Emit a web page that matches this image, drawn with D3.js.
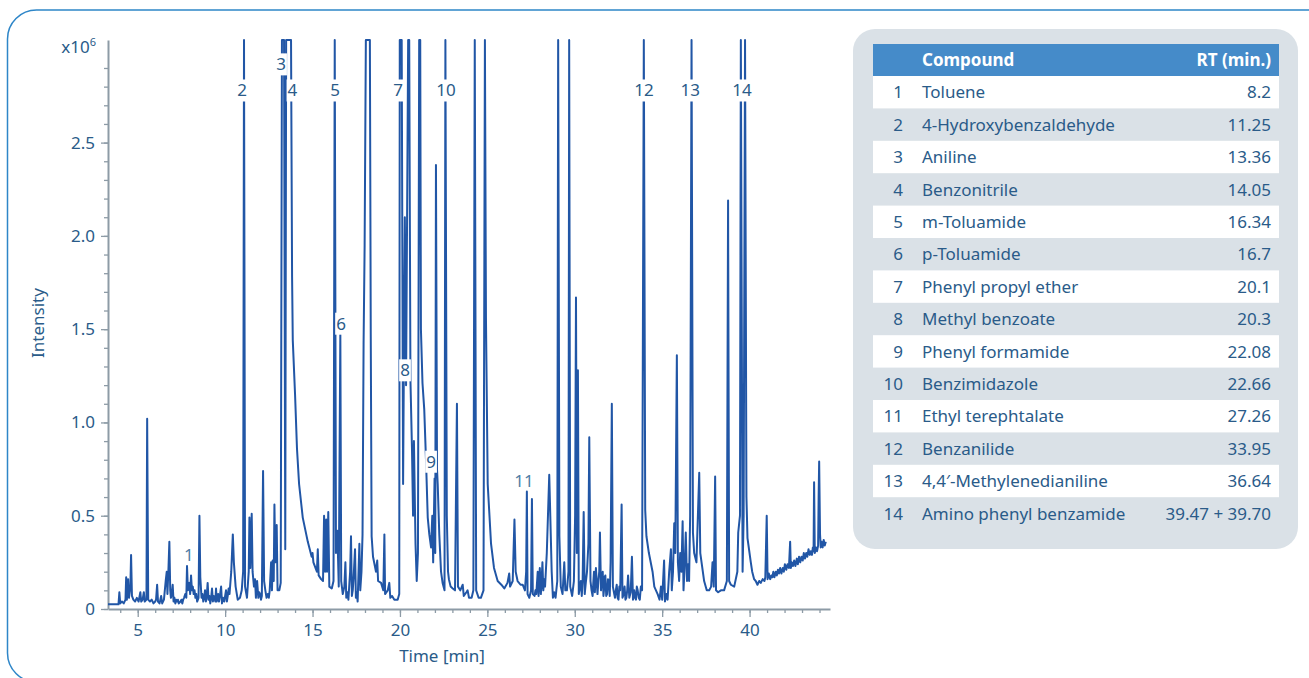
<!DOCTYPE html>
<html>
<head>
<meta charset="utf-8">
<script src="https://cdn.jsdelivr.net/npm/d3@7"></script>
<style>
    body { margin: 0; background: #fff; }
    svg text { font-family: "Noto Sans", "Open Sans", sans-serif; }
</style>
</head>
<body>
<svg id="main-chart" width="1309" height="678"></svg>
<script>
// chromatogram trace, [time (min), intensity (x10^6)]
var trace = [
    [3.3,0.025],[3.9,0.025],[3.95,0.09],[4.0,0.03],[4.1,0.04],[4.2,0.03],[4.3,0.05],[4.34,0.17],[4.38,0.05],
    [4.45,0.16],[4.5,0.06],[4.58,0.12],[4.62,0.29],[4.67,0.07],[4.75,0.05],[4.85,0.04],[4.95,0.06],[5.05,0.04],
    [5.15,0.09],[5.2,0.04],[5.28,0.05],[5.35,0.09],[5.4,0.04],[5.5,0.05],[5.54,1.02],[5.6,0.05],[5.7,0.04],
    [5.8,0.05],[5.9,0.03],[6.0,0.04],[6.05,0.05],[6.11,0.13],[6.16,0.04],[6.25,0.03],[6.34,0.07],[6.4,0.03],
    [6.5,0.05],[6.6,0.15],[6.66,0.2],[6.7,0.08],[6.76,0.22],[6.81,0.36],[6.86,0.1],[6.9,0.06],[6.95,0.08],[7.0,0.13],
    [7.05,0.04],[7.1,0.06],[7.15,0.03],[7.2,0.05],[7.25,0.04],[7.3,0.05],[7.35,0.03],[7.45,0.04],[7.5,0.05],[7.55,0.03],
    [7.6,0.05],[7.65,0.06],[7.72,0.08],[7.78,0.06],[7.82,0.23],
    [7.87,0.1],[7.95,0.14],[8.0,0.08],[8.05,0.18],[8.1,0.1],[8.15,0.12],[8.2,0.08],[8.25,0.1],[8.3,0.06],[8.35,0.08],
    [8.4,0.04],[8.48,0.06],
    [8.53,0.5],[8.58,0.17],[8.65,0.06],[8.7,0.08],[8.75,0.04],[8.8,0.06],[8.85,0.1],[8.9,0.04],[8.95,0.07],[9.0,0.14],
    [9.05,0.05],[9.1,0.07],[9.15,0.03],
    [9.2,0.06],[9.25,0.11],[9.3,0.04],[9.35,0.07],[9.4,0.06],[9.44,0.04],[9.48,0.11],[9.52,0.04],[9.56,0.06],
    [9.6,0.08],[9.65,0.04],[9.7,0.07],[9.77,0.12],[9.82,0.03],
    [9.88,0.06],[9.95,0.04],[10.0,0.07],[10.05,0.1],[10.1,0.04],[10.15,0.07],[10.2,0.11],[10.25,0.08],[10.35,0.2],
    [10.44,0.4],[10.5,0.25],[10.6,0.12],
    [10.72,0.05],[10.85,0.06],[10.95,0.1],[11.03,0.2],[11.08,3.05],[11.14,0.12],[11.25,0.06],[11.35,0.2],
    [11.39,0.49],[11.44,0.22],[11.52,0.51],[11.57,0.2],[11.65,0.12],[11.71,0.16],[11.76,0.06],[11.83,0.15],
    [11.9,0.06],[11.95,0.09],[12.0,0.08],[12.05,0.05],[12.1,0.07],[12.17,0.74],[12.23,0.15],[12.3,0.1],[12.37,0.06],
    [12.44,0.08],[12.5,0.06],[12.55,0.1],
    [12.63,0.25],[12.68,0.1],[12.72,0.26],[12.78,0.15],[12.82,0.56],[12.87,0.25],[12.95,0.45],[13.0,0.1],
    [13.1,0.1],[13.18,0.14],[13.25,3.05],[13.37,3.05],[13.44,0.32],[13.49,3.05],[13.77,3.05],[13.83,1.78],
    [13.87,1.44],[14.0,1.15],[14.11,0.86],[14.23,0.67],[14.44,0.49],[14.73,0.36],[14.95,0.28],[15.0,0.3],
    [15.05,0.25],[15.25,0.2],[15.3,0.32],[15.35,0.18],[15.49,0.16],[15.6,0.15],[15.66,0.5],[15.72,0.2],
    [15.78,0.48],[15.83,0.2],[15.9,0.52],[15.96,0.12],[16.1,0.11],[16.2,0.15],[16.27,3.05],[16.34,0.3],
    [16.42,0.42],[16.5,0.12],[16.59,1.48],[16.64,0.15],[16.73,0.08],[16.82,0.12],[16.88,0.25],[16.93,0.06],
    [17.0,0.09],[17.05,0.05],[17.15,0.2],[17.2,0.39],[17.25,0.07],[17.3,0.1],[17.35,0.17],[17.43,0.32],[17.48,0.06],
    [17.53,0.09],[17.58,0.04],
    [17.68,0.35],[17.73,0.1],[17.8,0.2],[17.86,0.4],[17.92,1.42],[17.98,1.95],[18.05,3.05],[18.28,3.05],
    [18.33,1.47],[18.38,0.39],[18.46,0.28],[18.63,0.2],[18.7,0.26],[18.75,0.15],[18.92,0.14],[19.05,0.1],
    [19.11,0.4],[19.15,0.08],[19.3,0.1],[19.39,0.14],[19.45,0.06],[19.55,0.07],[19.68,0.05],[19.87,0.05],
    [19.96,0.08],[19.99,3.05],[20.1,3.05],[20.18,0.67],[20.28,2.1],[20.35,1.2],[20.47,3.05],[20.53,3.05],
    [20.6,1.23],[20.69,0.85],[20.75,0.5],[20.8,0.9],[20.89,0.35],[20.96,0.15],[21.03,0.3],[21.1,3.05],
    [21.16,3.05],[21.2,1.5],[21.29,1.21],[21.39,1.07],[21.49,0.8],[21.59,0.49],[21.68,0.4],[21.78,0.33],
    [21.85,0.5],[21.9,0.25],[21.98,0.7],[22.02,0.3],[22.06,2.38],[22.12,0.75],[22.16,0.67],[22.25,0.4],
    [22.35,0.2],[22.44,0.14],[22.55,0.1],[22.6,3.05],[22.68,0.5],[22.75,0.2],[22.8,0.16],[22.9,0.12],
    [23.02,0.11],[23.15,0.1],[23.26,1.1],[23.32,0.12],[23.45,0.1],[23.59,0.13],[23.65,0.07],[23.8,0.09],
    [23.87,0.1],[23.95,0.06],[24.1,0.06],[24.2,0.1],[24.28,3.05],[24.36,0.1],[24.5,0.06],[24.63,0.06],
    [24.78,0.1],[24.86,3.05],[24.92,1.56],[25.02,0.67],[25.21,0.35],[25.38,0.22],[25.59,0.15],[25.8,0.13],
    [25.97,0.11],[26.15,0.14],[26.25,0.19],[26.3,0.12],[26.45,0.15],[26.55,0.48],[26.62,0.2],[26.73,0.15],
    [26.9,0.13],[27.02,0.13],[27.15,0.1],[27.22,0.2],[27.26,0.63],[27.3,0.08],[27.4,0.06],[27.5,0.1],
    [27.55,0.59],[27.6,0.08],[27.7,0.07],[27.75,0.1],[27.8,0.08],[27.88,0.2],[27.93,0.07],[28.0,0.22],[28.06,0.08],
    [28.1,0.14],[28.15,0.25],[28.2,0.1],[28.25,0.16],[28.3,0.12],[28.4,0.3],[28.54,0.72],[28.6,0.5],[28.68,0.2],[28.75,0.06],
    [28.82,0.09],[28.9,0.06],[29.0,0.15],[29.05,3.05],[29.12,0.39],[29.2,0.12],[29.3,0.08],[29.4,0.25],[29.46,0.1],
    [29.55,0.1],[29.64,0.2],[29.68,3.05],[29.74,0.12],[29.85,0.07],[29.95,0.15],[30.02,0.5],[30.07,1.67],
    [30.12,0.3],[30.18,1.28],[30.23,0.08],[30.3,0.12],[30.35,0.15],[30.4,0.07],[30.45,0.15],[30.51,0.52],[30.57,0.08],
    [30.63,0.14],[30.7,0.2],[30.78,0.35],[30.83,0.92],[30.9,0.15],[30.96,0.1],[31.02,0.07],[31.06,0.14],[31.1,0.2],
    [31.15,0.09],[31.21,0.22],[31.3,0.08],[31.35,0.15],[31.4,0.2],[31.44,0.41],[31.5,0.1],[31.55,0.16],[31.6,0.2],
    [31.64,0.07],[31.67,0.1],[31.71,0.17],[31.75,0.18],[31.8,0.07],[31.85,0.08],[31.9,0.16],[31.95,0.15],
    [32.0,0.07],[32.05,0.25],[32.12,1.1],[32.18,0.12],[32.24,0.09],[32.3,0.06],[32.35,0.1],[32.4,0.13],[32.45,0.06],
    [32.5,0.05],[32.55,0.12],[32.6,0.1],[32.68,0.56],[32.73,0.06],[32.8,0.08],[32.85,0.12],[32.9,0.05],[32.95,0.06],
    [33.0,0.1],[33.05,0.18],[33.12,0.06],[33.2,0.09],[33.27,0.28],[33.33,0.05],[33.4,0.1],[33.45,0.06],[33.5,0.05],
    [33.55,0.12],[33.6,0.1],[33.66,0.06],[33.72,0.05],[33.78,0.12],[33.85,0.1],[33.95,3.05],[34.03,0.53],[34.1,0.39],[34.24,0.3],[34.45,0.2],[34.55,0.12],
    [34.74,0.08],[34.85,0.05],[34.93,0.12],[35.0,0.05],[35.11,0.26],[35.16,0.04],[35.25,0.08],[35.31,0.05],[35.4,0.2],
    [35.5,0.32],[35.55,0.1],[35.62,0.2],[35.69,0.46],[35.75,0.3],[35.84,1.36],[35.9,0.25],[35.97,0.15],[36.03,0.3],[36.1,0.2],
    [36.17,0.47],[36.22,0.1],[36.28,0.22],[36.35,0.41],[36.42,0.15],[36.48,0.24],[36.54,0.15],[36.6,0.5],[36.68,3.05],[36.76,0.41],
    [36.83,0.3],[36.96,0.25],[37.12,0.73],[37.18,0.3],[37.4,0.15],[37.55,0.1],[37.69,0.1],[37.8,0.12],
    [37.88,0.25],[37.95,0.12],[38.03,0.71],[38.08,0.1],[38.2,0.09],[38.36,0.1],[38.54,0.1],[38.7,0.15],
    [38.77,2.19],[38.83,0.15],[38.93,0.13],[39.12,0.12],[39.3,0.2],[39.35,0.41],[39.45,0.5],[39.5,3.05],
    [39.6,0.2],[39.66,0.5],[39.74,3.05],[39.82,0.6],[39.88,0.38],[40.07,0.25],[40.15,0.2],[40.26,0.16],
    [40.35,0.15],[40.45,0.13],[40.55,0.15],[40.64,0.14],[40.75,0.16],[40.85,0.15],[40.9,0.17],[40.98,0.5],
    [41.03,0.16],[41.1,0.19],[41.18,0.16],[41.25,0.18],[41.3,0.17],[41.36,0.2],[41.42,0.17],[41.5,0.2],
    [41.56,0.18],[41.62,0.21],[41.68,0.19],[41.75,0.22],[41.82,0.19],[41.9,0.22],[41.96,0.2],[42.02,0.24],
    [42.1,0.21],[42.17,0.24],[42.25,0.22],[42.32,0.36],[42.36,0.22],[42.42,0.25],[42.48,0.23],[42.55,0.26],
    [42.62,0.23],[42.7,0.27],[42.76,0.24],[42.83,0.28],[42.9,0.25],[42.97,0.28],[43.04,0.26],[43.1,0.3],
    [43.17,0.27],[43.24,0.3],[43.3,0.28],[43.37,0.32],[43.44,0.29],[43.5,0.31],[43.57,0.29],[43.62,0.33],
    [43.66,0.31],[43.69,0.68],[43.73,0.3],[43.8,0.33],[43.86,0.31],[43.92,0.34],[43.95,0.6],[43.98,0.79],
    [44.03,0.4],[44.07,0.33],[44.12,0.36],[44.18,0.33],[44.24,0.37],[44.3,0.34],[44.36,0.36]
];

// peak labels: number, time and height where the label sits
var peakNo = ["1","2","3","4","5","6","7","8","9","10","11","12","13","14"];
var peakLabelT = [7.93, 10.97, 13.2, 13.85, 16.29, 16.63, 19.89, 20.29, 21.78, 22.64, 27.1, 33.96, 36.6, 39.57];
var peakLabelV = [0.29, 2.78, 2.92, 2.78, 2.78, 1.53, 2.78, 1.28, 0.79, 2.78, 0.686, 2.78, 2.78, 2.78];
var peakBoxed = [false, true, true, true, true, true, true, true, true, true, false, true, true, true];

// compound table
var compounds = ["Toluene", "4-Hydroxybenzaldehyde", "Aniline", "Benzonitrile", "m-Toluamide",
    "p-Toluamide", "Phenyl propyl ether", "Methyl benzoate", "Phenyl formamide", "Benzimidazole",
    "Ethyl terephtalate", "Benzanilide", "4,4\u2032-Methylenedianiline", "Amino phenyl benzamide"];
var retention = ["8.2", "11.25", "13.36", "14.05", "16.34", "16.7", "20.1", "20.3", "22.08", "22.66",
    "27.26", "33.95", "36.64", "39.47 + 39.70"];

var xTicks = [5, 10, 15, 20, 25, 30, 35, 40];
var yTicks = [0, 0.5, 1.0, 1.5, 2.0, 2.5];
var yTickLabels = ["0", "0.5", "1.0", "1.5", "2.0", "2.5"];

const lineColor = "#2156a6",
    textColor = "#2a5b89",
    axisColor = "#8d9ba6",
    fontSize = 17;

var svg = d3.select("#main-chart");

// outer frame
svg.append("rect")
    .attr("x", 7.5).attr("y", 10)
    .attr("width", 1360).attr("height", 672)
    .attr("rx", 29).attr("ry", 29)
    .style("fill", "none")
    .style("stroke", "#2e86c8")
    .style("stroke-width", 1.5);

var xScale = d3.scaleLinear().domain([3.3, 44.6]).range([108, 830]);
var yScale = d3.scaleLinear().domain([0, 3.05]).range([609, 40]);

// minor ticks
svg.append("g")
    .attr("transform", "translate(0,609)")
    .call(d3.axisBottom(xScale).tickValues(d3.range(4, 45)).tickSize(4).tickSizeOuter(0).tickFormat(""))
    .call(function(g) { g.select(".domain").remove(); });
svg.append("g")
    .attr("transform", "translate(108,0)")
    .call(d3.axisLeft(yScale).tickValues(d3.range(0, 30).map(function(d) { return d / 10; }))
        .tickSize(4).tickSizeOuter(0).tickFormat(""))
    .call(function(g) { g.select(".domain").remove(); });

// major ticks + labels
var xAxisG = svg.append("g")
    .attr("transform", "translate(0,609)")
    .call(d3.axisBottom(xScale).tickValues(xTicks).tickSize(8).tickSizeOuter(0).tickPadding(7)
        .tickFormat(function(d) { return d + ""; }));
var yAxisG = svg.append("g")
    .attr("transform", "translate(108,0)")
    .call(d3.axisLeft(yScale).tickValues(yTicks).tickSize(7).tickSizeOuter(0).tickPadding(6)
        .tickFormat(function(d, i) { return yTickLabels[i]; }));

svg.selectAll(".tick line").style("stroke", axisColor).style("stroke-width", 1.3);
svg.selectAll(".domain").style("stroke", axisColor).style("stroke-width", 2);
svg.selectAll(".tick text")
    .style("font-size", fontSize + "px")
    .style("fill", textColor)
    .style("font-family", "'Noto Sans', sans-serif");
xAxisG.selectAll(".tick text").attr("dy", "0.71em");

// axis titles
svg.append("text")
    .attr("x", 442).attr("y", 662)
    .attr("text-anchor", "middle")
    .style("font-size", fontSize + "px")
    .style("fill", textColor)
    .text("Time [min]");
svg.append("text")
    .attr("transform", "translate(44,323) rotate(-90)")
    .attr("text-anchor", "middle")
    .style("font-size", fontSize + "px")
    .style("fill", textColor)
    .text("Intensity");
var unit = svg.append("text")
    .attr("x", 96).attr("y", 53)
    .attr("text-anchor", "end")
    .style("font-size", fontSize + "px")
    .style("fill", textColor);
unit.append("tspan").text("x10");
unit.append("tspan").attr("dy", -7).style("font-size", "11px").text("6");

// trace
var valueline = d3.line()
    .x(function(d) { return xScale(d[0]); })
    .y(function(d) { return yScale(d[1]); });

svg.append("path")
    .datum(trace)
    .attr("d", valueline)
    .style("fill", "none")
    .style("stroke", lineColor)
    .style("stroke-width", 2)
    .style("stroke-linejoin", "round");

// peak numbers with white boxes
var labels = svg.append("g");
peakNo.forEach(function(n, i) {
    var g = labels.append("g");
    var t = g.append("text")
        .attr("x", xScale(peakLabelT[i]))
        .attr("y", yScale(peakLabelV[i]))
        .attr("dy", "0.36em")
        .attr("text-anchor", "middle")
        .style("font-size", fontSize + "px")
        .style("fill", peakBoxed[i] ? textColor : "#4f7ea6")
        .text(n);
    if (peakBoxed[i]) {
        var bb = t.node().getBBox();
        g.insert("rect", "text")
            .attr("x", bb.x - 1).attr("y", bb.y + 1)
            .attr("width", bb.width + 2).attr("height", bb.height - 1)
            .style("fill", "#fff");
    }
});

// compound table
const tX = 853, tY = 29, tW = 445, tH = 520,
    rowX = 873, rowW = 406, headY = 44, headH = 32, rowH = 32.4;

var table = svg.append("g");
table.append("rect")
    .attr("x", tX).attr("y", tY).attr("width", tW).attr("height", tH)
    .attr("rx", 22).attr("ry", 22)
    .style("fill", "#dae1e7");
table.append("rect")
    .attr("x", rowX).attr("y", headY).attr("width", rowW).attr("height", headH)
    .style("fill", "#458bc9");
table.append("text")
    .attr("x", 922).attr("y", headY + headH / 2).attr("dy", "0.36em")
    .style("font-size", fontSize + "px").style("font-weight", "bold").style("fill", "#fff")
    .text("Compound");
table.append("text")
    .attr("x", 1271).attr("y", headY + headH / 2).attr("dy", "0.36em")
    .attr("text-anchor", "end")
    .style("font-size", fontSize + "px").style("font-weight", "bold").style("fill", "#fff")
    .text("RT (min.)");

var rows = table.selectAll(".row")
    .data(compounds)
    .enter()
    .append("g")
    .attr("class", "row")
    .attr("transform", function(d, i) { return "translate(0," + (headY + headH + i * rowH) + ")"; });

rows.filter(function(d, i) { return i % 2 === 0; })
    .append("rect")
    .attr("x", rowX).attr("width", rowW).attr("height", rowH)
    .style("fill", "#fff");

rows.append("text")
    .attr("x", 903).attr("y", rowH / 2).attr("dy", "0.36em")
    .attr("text-anchor", "end")
    .style("font-size", fontSize + "px").style("fill", textColor)
    .text(function(d, i) { return peakNo[i]; });
rows.append("text")
    .attr("x", 922).attr("y", rowH / 2).attr("dy", "0.36em")
    .style("font-size", fontSize + "px").style("fill", textColor)
    .text(function(d) { return d; });
rows.append("text")
    .attr("x", 1271).attr("y", rowH / 2).attr("dy", "0.36em")
    .attr("text-anchor", "end")
    .style("font-size", fontSize + "px").style("fill", textColor)
    .text(function(d, i) { return retention[i]; });
</script>
</body>
</html>
